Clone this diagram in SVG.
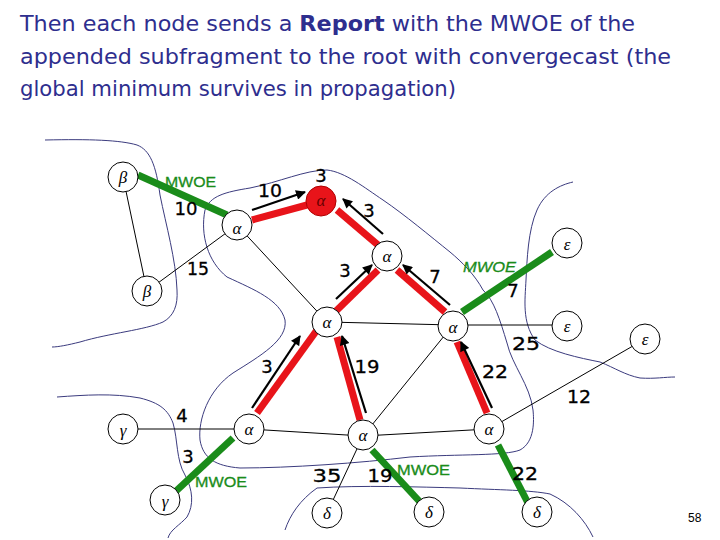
<svg xmlns="http://www.w3.org/2000/svg" width="720" height="540" viewBox="0 0 720 540">
<defs>
<marker id="ah" viewBox="0 0 10 10" refX="9" refY="5" markerWidth="5" markerHeight="4.5" orient="auto" markerUnits="strokeWidth">
<path d="M0,0 L10,5 L0,10 Z" fill="#000"/>
</marker>
<style>
.title{font-family:"DejaVu Sans","Liberation Sans",sans-serif;font-size:21px;fill:#2e2e8e}
.contour{fill:none;stroke:#3b3b7e;stroke-width:1}
.thin{stroke:#000;stroke-width:1;fill:none}
.red{stroke:#e8141a;stroke-width:7;stroke-linecap:butt}
.green{stroke:#1a8c1a;stroke-width:7;stroke-linecap:butt}
.arrow{stroke:#000;stroke-width:2.2;fill:none;marker-end:url(#ah)}
.node circle{fill:#fff;stroke:#000;stroke-width:1}
.node text{font-family:"Liberation Serif","DejaVu Serif",serif;font-style:italic;font-size:17px;text-anchor:middle;fill:#000}
.num{font-family:"DejaVu Sans","Liberation Sans",sans-serif;font-size:18px;fill:#000;stroke:#000;stroke-width:0.3;text-anchor:middle}
.mwoe{font-family:"Liberation Sans","DejaVu Sans",sans-serif;font-size:15px;fill:#1a8c1a;stroke:#1a8c1a;stroke-width:0.3}
</style>
</defs>
<rect width="720" height="540" fill="#fff"/>

<g id="title">
<text class="title" x="20" y="31" textLength="615" lengthAdjust="spacingAndGlyphs">Then each node sends a <tspan font-weight="bold">Report</tspan> with the MWOE of the</text>
<text class="title" x="20" y="64" textLength="651" lengthAdjust="spacingAndGlyphs">appended subfragment to the root with convergecast (the</text>
<text class="title" x="20" y="96" textLength="436" lengthAdjust="spacingAndGlyphs">global minimum survives in propagation)</text>
</g>

<g id="contours">
<path class="contour" d="M45,140 C90,139 120,140 137,145 C150,150 156,165 160,195 C166,225 176,260 177,290 C178,305 174,316 163,322 C145,330 110,333 80,342 C68,345 58,347 52,347"/>
<path class="contour" d="M227,277 C255,290 280,300 285,320 C288,340 260,356 233,373 C208,390 198,420 200,440 C203,458 215,466 240,468 C290,468 360,463 410,457 C460,454 505,456 520,450 C535,442 534,420 533,410 C530,385 512,365 507,343 C500,320 494,300 483,290 C475,275 462,262 450,252 C430,236 405,215 383,200 C365,188 345,172 327,170 C305,170 280,182 250,188 C225,192 210,196 205,210 C200,235 208,262 227,277 Z"/>
<path class="contour" d="M57,397 C85,395 113,393 140,398 C160,403 168,410 173,423 C178,440 176,460 185,475 C193,490 194,505 187,517 C180,525 170,530 168,538"/>
<path class="contour" d="M285,530 C290,515 300,500 317,488 C360,485 420,487 460,488 C500,490 530,490 550,494 C570,503 585,520 593,537"/>
<path class="contour" d="M573,182 C560,185 545,192 537,210 C528,230 527,260 526,280 C525,300 522,322 535,340 C550,352 580,358 600,362 C615,368 625,375 640,378 C655,379 665,377 675,377"/>
</g>

<g id="connectors">
<line class="thin" x1="123" y1="177" x2="147" y2="291"/>
<line class="thin" x1="147" y1="291" x2="237" y2="225"/>
<line class="thin" x1="237" y1="225" x2="327" y2="322"/>
<line class="thin" x1="327" y1="322" x2="453" y2="325"/>
<line class="thin" x1="453" y1="325" x2="567" y2="325"/>
<line class="thin" x1="453" y1="325" x2="363" y2="436"/>
<line class="thin" x1="123" y1="429" x2="249" y2="429"/>
<line class="thin" x1="249" y1="429" x2="363" y2="436"/>
<line class="thin" x1="363" y1="436" x2="489" y2="429"/>
<line class="thin" x1="489" y1="429" x2="645" y2="339"/>
<line class="thin" x1="363" y1="436" x2="327" y2="513"/>

<line class="green" x1="138" y1="175" x2="227" y2="215"/>
<line class="green" x1="462" y1="312" x2="552" y2="252"/>
<line class="green" x1="233" y1="438" x2="175" y2="492"/>
<line class="green" x1="372" y1="450" x2="420" y2="502"/>
<line class="green" x1="498" y1="445" x2="528" y2="503"/>

<line class="red" x1="252" y1="220" x2="307" y2="205"/>
<line class="red" x1="337" y1="210" x2="378" y2="245"/>
<line class="red" x1="378" y1="270" x2="335" y2="312"/>
<line class="red" x1="397" y1="270" x2="445" y2="312"/>
<line class="red" x1="317" y1="330" x2="257" y2="413"/>
<line class="red" x1="337" y1="337" x2="360" y2="420"/>
<line class="red" x1="457" y1="342" x2="487" y2="413"/>

<line class="arrow" x1="252" y1="210" x2="305" y2="192"/>
<line class="arrow" x1="383" y1="234" x2="343" y2="199"/>
<line class="arrow" x1="336" y1="299" x2="372" y2="265"/>
<line class="arrow" x1="450" y1="305" x2="403" y2="265"/>
<line class="arrow" x1="252" y1="408" x2="300" y2="336"/>
<line class="arrow" x1="366" y1="413" x2="342" y2="336"/>
<line class="arrow" x1="492" y1="408" x2="461" y2="342"/>
</g>

<g id="n-beta1" class="node"><circle cx="123" cy="177" r="15"/><text x="123" y="183">β</text></g>
<g id="n-beta2" class="node"><circle cx="147" cy="291" r="15"/><text x="147" y="297">β</text></g>
<g id="n-alpha-left" class="node"><circle cx="237" cy="225" r="15"/><text x="237" y="234" font-size="16">α</text></g>
<g id="n-root" class="node"><circle cx="321" cy="201" r="15" style="fill:#e8141a;stroke:#b00000"/><text x="321" y="206" font-size="14" style="fill:#600">α</text></g>
<g id="n-alpha-mid" class="node"><circle cx="387" cy="256" r="15"/><text x="387" y="262" font-size="16">α</text></g>
<g id="n-eps1" class="node"><circle cx="567" cy="243" r="15"/><text x="567" y="250" font-size="15">ε</text></g>
<g id="n-alpha-top" class="node"><circle cx="327" cy="322" r="15"/><text x="327" y="328" font-size="16">α</text></g>
<g id="n-alpha-right" class="node"><circle cx="453" cy="326" r="15"/><text x="453" y="333" font-size="16">α</text></g>
<g id="n-eps2" class="node"><circle cx="567" cy="326" r="15"/><text x="567" y="332" font-size="15">ε</text></g>
<g id="n-eps3" class="node"><circle cx="645" cy="339" r="15"/><text x="645" y="345" font-size="15">ε</text></g>
<g id="n-gamma1" class="node"><circle cx="123" cy="429" r="15"/><text x="123" y="436">γ</text></g>
<g id="n-alpha-bl" class="node"><circle cx="249" cy="429" r="15"/><text x="249" y="435" font-size="16">α</text></g>
<g id="n-alpha-bc" class="node"><circle cx="363" cy="435" r="15"/><text x="363" y="441" font-size="16">α</text></g>
<g id="n-alpha-br" class="node"><circle cx="489" cy="429" r="15"/><text x="489" y="435" font-size="16">α</text></g>
<g id="n-gamma2" class="node"><circle cx="165" cy="500" r="15"/><text x="165" y="507">γ</text></g>
<g id="n-delta1" class="node"><circle cx="327" cy="513" r="15"/><text x="327" y="519">δ</text></g>
<g id="n-delta2" class="node"><circle cx="429" cy="512" r="15"/><text x="429" y="518">δ</text></g>
<g id="n-delta3" class="node"><circle cx="537" cy="512" r="15"/><text x="537" y="518">δ</text></g>

<g id="labels">
<text class="num" x="321" y="182">3</text>
<text class="num" x="270" y="197" textLength="24" lengthAdjust="spacingAndGlyphs">10</text>
<text class="num" x="186" y="215" textLength="23" lengthAdjust="spacingAndGlyphs">10</text>
<text class="num" x="369" y="217">3</text>
<text class="num" x="198" y="275" textLength="22" lengthAdjust="spacingAndGlyphs">15</text>
<text class="num" x="345" y="277">3</text>
<text class="num" x="435" y="283">7</text>
<text class="num" x="513" y="297">7</text>
<text class="num" x="526" y="350" textLength="28" lengthAdjust="spacingAndGlyphs">25</text>
<text class="num" x="495" y="378" textLength="26" lengthAdjust="spacingAndGlyphs">22</text>
<text class="num" x="267" y="373">3</text>
<text class="num" x="367" y="373" textLength="25" lengthAdjust="spacingAndGlyphs">19</text>
<text class="num" x="579" y="403" textLength="24" lengthAdjust="spacingAndGlyphs">12</text>
<text class="num" x="182" y="422">4</text>
<text class="num" x="188" y="463">3</text>
<text class="num" x="327" y="482" textLength="29" lengthAdjust="spacingAndGlyphs">35</text>
<text class="num" x="380" y="482" textLength="25" lengthAdjust="spacingAndGlyphs">19</text>
<text class="num" x="525" y="480" textLength="26" lengthAdjust="spacingAndGlyphs">22</text>
<text class="mwoe" x="165" y="187" textLength="51" lengthAdjust="spacingAndGlyphs">MWOE</text>
<text class="mwoe" x="463" y="272" textLength="53" lengthAdjust="spacingAndGlyphs" font-style="italic">MWOE</text>
<text class="mwoe" x="195" y="487" textLength="52" lengthAdjust="spacingAndGlyphs">MWOE</text>
<text class="mwoe" x="397" y="475" textLength="53" lengthAdjust="spacingAndGlyphs">MWOE</text>
<text x="688" y="522" font-family="Liberation Sans, sans-serif" font-size="12" fill="#000">58</text>
</g>
</svg>
